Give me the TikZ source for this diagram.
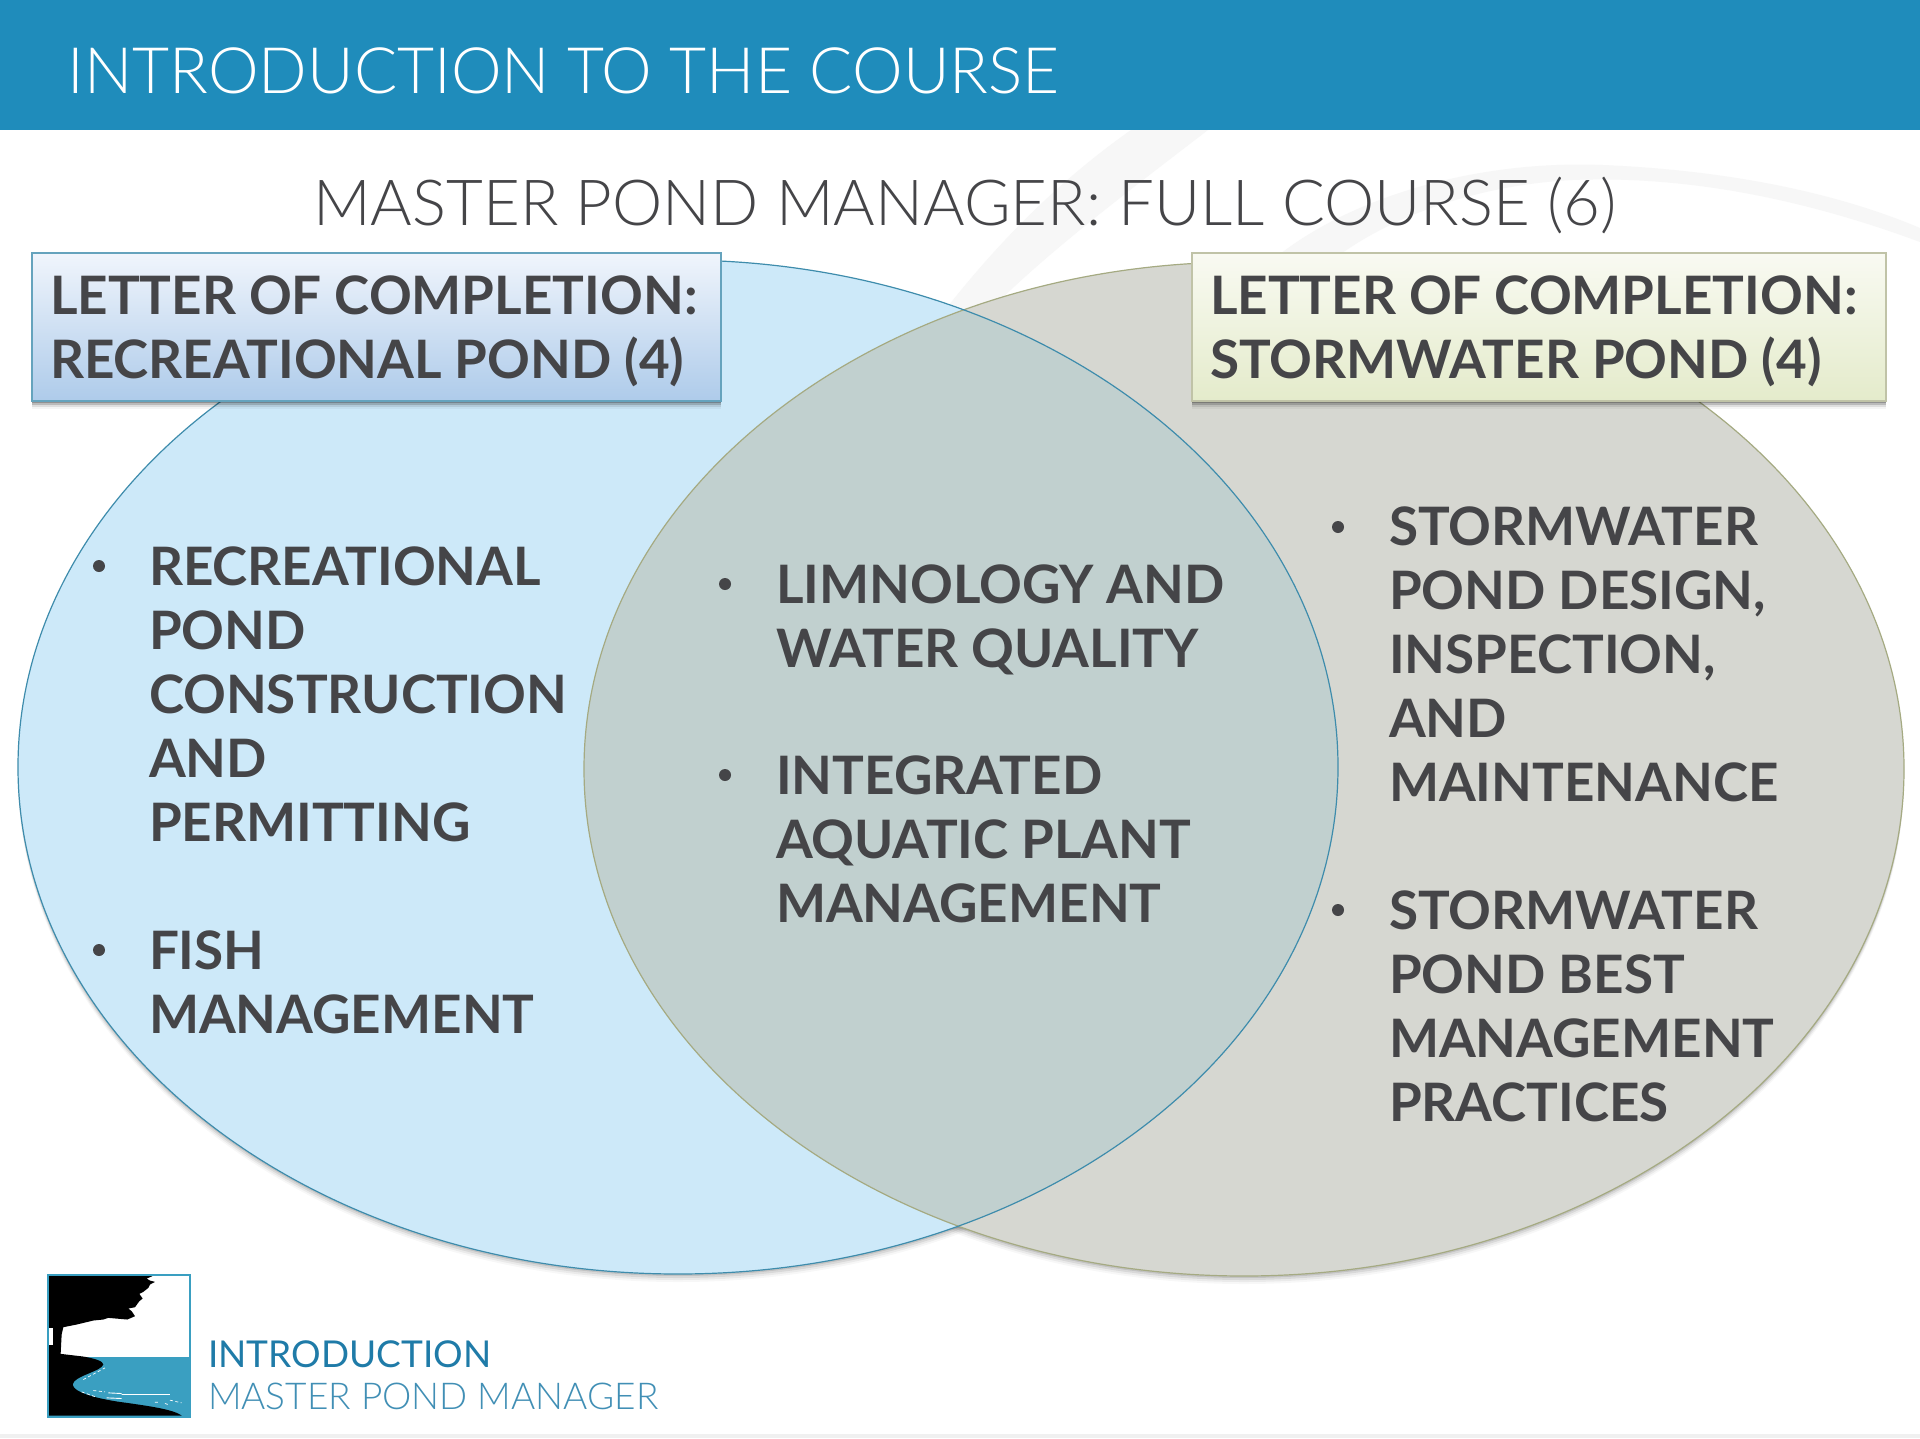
\documentclass[tikz,border=0pt]{standalone}
\usepackage{fontspec}
\setmainfont{Lato}
\newfontfamily\latolight{Lato Light}
\usetikzlibrary{shapes.geometric}
\definecolor{hdr}{RGB}{31,140,187}
\definecolor{ink}{RGB}{69,69,72}
\definecolor{leftfill}{RGB}{205,233,249}
\definecolor{rightfill}{RGB}{214,215,209}
\definecolor{midfill}{RGB}{193,208,207}
\definecolor{leftline}{RGB}{62,140,172}
\definecolor{rightline}{RGB}{165,170,130}
\definecolor{water}{RGB}{58,159,193}
\definecolor{introblue}{RGB}{31,123,168}
\definecolor{swoosh}{RGB}{247,247,247}
\definecolor{ltop}{RGB}{240,245,252}
\definecolor{lbot}{RGB}{174,203,234}
\definecolor{rtop}{RGB}{249,250,242}
\definecolor{rbot}{RGB}{228,235,203}
\tikzset{
  every node/.style={inner sep=0pt,outer sep=0pt},
  venn/.style={ellipse,minimum width=1320pt,minimum height=1014pt},
  itemtext/.style={anchor=north west,align=left,text=ink,font=\fontsize{53}{64}\selectfont\bfseries},
  dot/.style={circle,fill=ink,minimum size=12pt},
  boxbase/.style={anchor=north west,minimum height=148pt,line width=1.6pt},
  boxtext/.style={anchor=north west,align=left,text=ink,font=\fontsize{53}{64}\selectfont\bfseries},
}
\begin{document}
\begin{tikzpicture}[x=1pt,y=-1pt]
\useasboundingbox (0,0) rectangle (1920,1438);
\fill[white] (0,0) rectangle (1920,1438);
\fill[black!6] (0,1434) rectangle (1920,1438);
% watermark swooshes
\fill[swoosh] (1131,130) -- (1208,130) .. controls (1130,190) and (1050,250) .. (990,310) -- (945,310) .. controls (1000,240) and (1060,180) .. (1131,130) -- cycle;
\fill[swoosh] (1270,262) .. controls (1350,195) and (1480,160) .. (1603,165) .. controls (1720,170) and (1830,190) .. (1920,228) -- (1920,242) .. controls (1820,205) and (1700,175) .. (1572,180) .. controls (1480,185) and (1390,215) .. (1330,262) -- cycle;
% header
\fill[hdr] (0,0) rectangle (1920,130);
\node[anchor=west,text=white,font=\fontsize{64}{70}\selectfont\latolight] (head) at (67.5,71) {INTRODUCTION TO THE COURSE};
\node[anchor=center,text=ink,font=\fontsize{63.5}{70}\selectfont\latolight] (title) at (965,205) {MASTER POND MANAGER: FULL COURSE (6)};
% soft shadows
\foreach \o/\a in {2/.10,4/.07,6/.05,8/.03}{
  \fill[black,opacity=\a] (678,767+\o) ellipse [x radius=660pt,y radius=507pt];
  \fill[black,opacity=\a] (1244,769+\o) ellipse [x radius=660pt,y radius=507pt];
}
% venn
\node[venn,fill=leftfill] (vl) at (678,767) {};
\node[venn,fill=rightfill] (vr) at (1244,769) {};
\begin{scope}
  \clip (678,767) ellipse [x radius=660pt,y radius=507pt];
  \fill[midfill] (1244,769) ellipse [x radius=660pt,y radius=507pt];
\end{scope}
\node[venn,draw=rightline,line width=1.2pt] (vro) at (1244,769) {};
\node[venn,draw=leftline,line width=1.2pt] (vlo) at (678,767) {};
% box shadows
\foreach \o/\a in {2/.22,4/.16,6/.09,8/.04}{
  \fill[black,opacity=\a] (32,253+\o) rectangle (721,401+\o);
  \fill[black,opacity=\a] (1192,253+\o) rectangle (1886,401+\o);
}
\node[boxbase,draw=leftline!80,top color=ltop,bottom color=lbot,minimum width=689pt] (lbox) at (32,253) {};
\node[boxbase,draw=rightline!70,top color=rtop,bottom color=rbot,minimum width=694pt] (rbox) at (1192,253) {};
\node[boxtext] (ltext) at (50,276) {LETTER OF COMPLETION:\\RECREATIONAL POND (4)};
\node[boxtext] (rtext) at (1210,276) {LETTER OF COMPLETION:\\STORMWATER POND (4)};
% left items
\node[dot] (b1) at (99,566) {};
\node[itemtext] (t1) at (149,547) {RECREATIONAL\\POND\\CONSTRUCTION\\AND\\PERMITTING};
\node[dot] (b2) at (99,950) {};
\node[itemtext] (t2) at (149,931) {FISH\\MANAGEMENT};
% middle items
\node[dot] (b3) at (725,584) {};
\node[itemtext] (t3) at (776,565) {LIMNOLOGY AND\\WATER QUALITY};
\node[dot] (b4) at (725,775) {};
\node[itemtext] (t4) at (776,756) {INTEGRATED\\AQUATIC PLANT\\MANAGEMENT};
% right items
\node[dot] (b5) at (1338,527) {};
\node[itemtext] (t5) at (1389,507) {STORMWATER\\POND DESIGN,\\INSPECTION,\\AND\\MAINTENANCE};
\node[dot] (b6) at (1338,910) {};
\node[itemtext] (t6) at (1389,891) {STORMWATER\\POND BEST\\MANAGEMENT\\PRACTICES};
% logo
\fill[white] (47,1274) rectangle (191,1418);
\begin{scope}[x=0.3333pt,y=-0.3333pt,shift={(120,3804)}]
  \fill[water] (27,268) rectangle (447,443);
  \fill[black] (27,25) -- (337,25) -- (320,32) -- (330,38) -- (345,42) -- (330,50) -- (325,60) -- (310,72) -- (298,78) -- (308,92) -- (298,100) -- (285,118) -- (265,122) -- (275,130) -- (285,145) -- (262,155) -- (205,150) -- (190,155) -- (160,158) -- (110,170) -- (70,178) -- (65,200) -- (62,258) -- (130,266) .. controls (165,272) and (190,280) .. (190,290) .. controls (185,310) and (100,325) .. (98,350) .. controls (100,375) and (180,395) .. (260,405) .. controls (330,415) and (400,425) .. (425,443) -- (27,443) -- cycle;
  \fill[white] (27,180) rectangle (38,232);
  \draw[white,line width=.9pt] (245,380) -- (390,380) (205,375) -- (245,377) (200,390) -- (245,392);
  \draw[white,line width=.7pt,dash pattern=on 3pt off 2.5pt] (130,335) -- (195,300) (125,372) -- (170,388) (160,368) -- (195,372) (375,407) -- (385,410) (390,397) -- (425,405) (345,403) -- (358,403);
\end{scope}
\draw[water,line width=2.4pt] (48,1275) rectangle (190,1417);
\node[anchor=west,text=introblue,font=\fontsize{37}{40}\selectfont] (f1) at (208,1354) {INTRODUCTION};
\node[anchor=west,text=introblue!85!white,font=\fontsize{37}{40}\selectfont\latolight] (f2) at (208,1396) {MASTER POND MANAGER};
\end{tikzpicture}
\end{document}
